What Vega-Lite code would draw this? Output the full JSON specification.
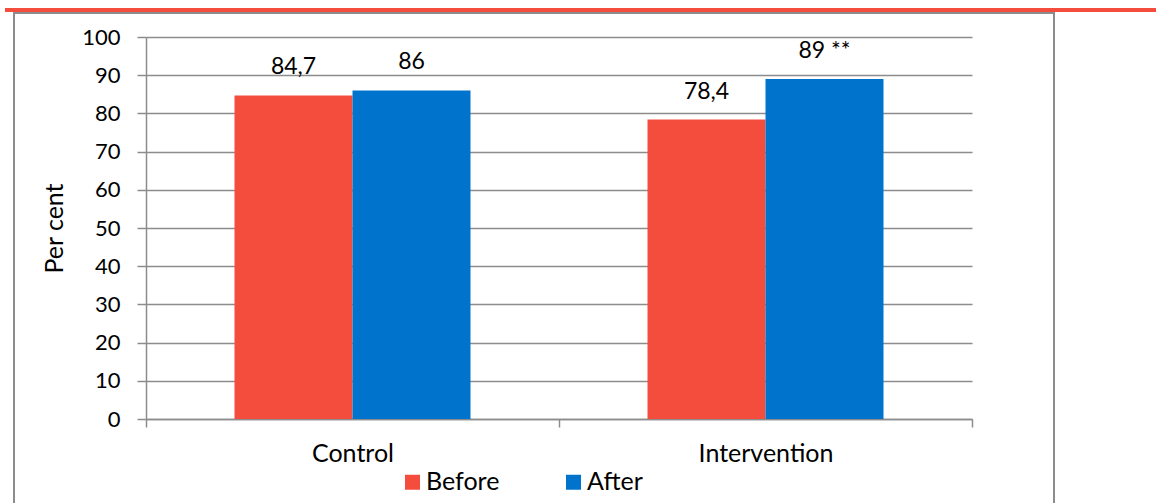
{
  "$schema": "https://vega.github.io/schema/vega-lite/v6.json",
  "padding": {"left": 5, "top": 8, "right": 0, "bottom": 0},
  "spacing": 0,
  "config": {
    "view": {"stroke": null},
    "font": "Lato",
    "concat": {"spacing": 0}
  },
  "vconcat": [
    {
      "width": 1151,
      "height": 4,
      "view": {"fill": "#f54d3d", "stroke": null},
      "data": {"values": []},
      "mark": "point"
    },
    {
      "spacing": 0,
      "hconcat": [
        {"width": 8, "height": 2, "data": {"values": []}, "mark": "point"},
        {
          "width": 1042,
          "height": 2,
          "view": {"fill": "#8c8c8c", "stroke": null},
          "data": {"values": []},
          "mark": "point"
        }
      ]
    },
    {
      "spacing": 0,
      "hconcat": [
        {"width": 8, "height": 489, "data": {"values": []}, "mark": "point"},
        {
          "width": 2,
          "height": 489,
          "view": {"fill": "#8c8c8c", "stroke": null},
          "data": {"values": []},
          "mark": "point"
        },
        {"width": 27, "height": 10, "data": {"values": []}, "mark": "point"},
        {
          "spacing": 0,
          "vconcat": [
            {"width": 10, "height": 12, "data": {"values": []}, "mark": "point"},
            {
              "width": 826,
              "height": 382,
              "data": {
                "values": [
                  {"group": "Control", "period": "Before", "value": 84.7, "label": "84,7"},
                  {"group": "Control", "period": "After", "value": 86, "label": "86"},
                  {"group": "Intervention", "period": "Before", "value": 78.4, "label": "78,4"},
                  {"group": "Intervention", "period": "After", "value": 89, "label": "89 **"}
                ]
              },
              "encoding": {
                "x": {
                  "field": "group",
                  "type": "nominal",
                  "scale": {"paddingInner": 0, "paddingOuter": 0},
                  "axis": {
                    "title": null,
                    "labelAngle": 0,
                    "labelFontSize": 25,
                    "labelColor": "#000000",
                    "labelPadding": 14,
                    "tickBand": "extent",
                    "tickSize": 8,
                    "tickColor": "#8c8c8c",
                    "tickWidth": 1.5,
                    "domainColor": "#8c8c8c",
                    "domainWidth": 1.5,
                    "grid": false
                  }
                },
                "xOffset": {
                  "field": "period",
                  "type": "nominal",
                  "sort": ["Before", "After"],
                  "scale": {"paddingInner": 0, "paddingOuter": 0.75}
                },
                "y": {
                  "field": "value",
                  "type": "quantitative",
                  "scale": {"domain": [0, 100]},
                  "axis": {
                    "title": "Per cent",
                    "titleFontSize": 25,
                    "titleFontWeight": "normal",
                    "titleColor": "#000000",
                    "titlePadding": 14,
                    "values": [0, 10, 20, 30, 40, 50, 60, 70, 80, 90, 100],
                    "labelFontSize": 22,
                    "labelColor": "#000000",
                    "labelPadding": 17,
                    "tickSize": 9,
                    "tickColor": "#8c8c8c",
                    "tickWidth": 1.5,
                    "domainColor": "#8c8c8c",
                    "domainWidth": 1.5,
                    "gridColor": "#8c8c8c",
                    "gridWidth": 1.5
                  }
                }
              },
              "layer": [
                {
                  "mark": {"type": "bar"},
                  "encoding": {
                    "color": {
                      "field": "period",
                      "type": "nominal",
                      "scale": {"domain": ["Before", "After"], "range": ["#f54d3d", "#0074cc"]},
                      "legend": {
                        "title": null,
                        "orient": "none",
                        "direction": "horizontal",
                        "legendX": 395,
                        "legendY": 461.5,
                        "padding": 0,
                        "symbolType": "square",
                        "symbolSize": 225,
                        "symbolStrokeWidth": 0,
                        "symbolOpacity": 1,
                        "labelFontSize": 25,
                        "labelColor": "#000000",
                        "labelOffset": 1,
                        "columnPadding": 61
                      }
                    }
                  }
                },
                {
                  "mark": {"type": "text", "fontSize": 23, "color": "#000000", "baseline": "middle", "dy": -28},
                  "encoding": {"text": {"field": "label"}}
                }
              ]
            }
          ]
        },
        {"width": 80, "height": 10, "data": {"values": []}, "mark": "point"},
        {
          "width": 2,
          "height": 489,
          "view": {"fill": "#8c8c8c", "stroke": null},
          "data": {"values": []},
          "mark": "point"
        }
      ]
    }
  ]
}
